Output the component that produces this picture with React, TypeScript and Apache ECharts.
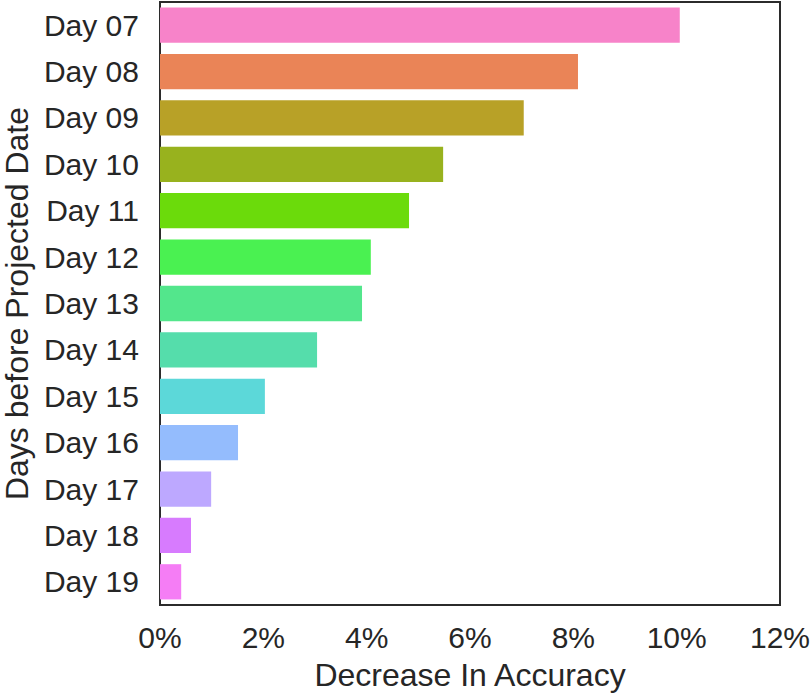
import React, { useEffect, useRef } from "react";
import * as echarts from "echarts";

const days = ["Day 07", "Day 08", "Day 09", "Day 10", "Day 11", "Day 12", "Day 13", "Day 14", "Day 15", "Day 16", "Day 17", "Day 18", "Day 19"];
const decrease = [10.06, 8.09, 7.04, 5.48, 4.82, 4.08, 3.91, 3.04, 2.03, 1.51, 0.99, 0.6, 0.41];
const barColors = ["#f783c9", "#ea8457", "#b8a127", "#98b21e", "#6bdb0b", "#4af151", "#53e68c", "#55ddab", "#5cd8d9", "#94bcfd", "#bda8ff", "#d77bfe", "#f57df5"];

export default function App() {
  const ref = useRef<HTMLDivElement>(null);
  useEffect(() => {
    if (!ref.current) return;
    const chart = echarts.init(ref.current, null, { renderer: "svg" });
    const font = "Liberation Sans, Arial, sans-serif";
    chart.setOption({
      animation: false,
      backgroundColor: "#ffffff",
      grid: {
        left: 160,
        right: 30,
        top: 2,
        bottom: 88,
        containLabel: false,
        outerBoundsMode: "none",
        show: true,
        borderColor: "#2b2b2b",
        borderWidth: 2,
        backgroundColor: "transparent",
      },
      xAxis: {
        type: "value",
        min: 0,
        max: 12,
        interval: 2,
        name: "Decrease In Accuracy",
        nameLocation: "middle",
        nameGap: 54,
        nameTextStyle: { fontSize: 32, color: "#262626", fontFamily: font },
        axisLine: { show: false },
        axisTick: { show: false },
        splitLine: { show: false },
        axisLabel: {
          fontSize: 30,
          color: "#262626",
          fontFamily: font,
          margin: 17,
          formatter: (v: number) => `${v}%`,
        },
      },
      yAxis: {
        type: "category",
        data: days,
        inverse: true,
        name: "Days before Projected Date",
        nameLocation: "middle",
        nameGap: 126,
        nameTextStyle: { fontSize: 32, color: "#262626", fontFamily: font },
        axisLine: { show: false },
        axisTick: { show: false },
        splitLine: { show: false },
        axisLabel: { fontSize: 30, color: "#262626", fontFamily: font, margin: 21 },
      },
      series: [
        {
          type: "bar",
          barCategoryGap: "24%",
          data: decrease.map((v, i) => ({ value: v, itemStyle: { color: barColors[i] } })),
        },
      ],
    });
    return () => chart.dispose();
  }, []);
  return (
    <div
      ref={ref}
      style={{ position: "fixed", left: 0, top: 0, width: 810, height: 693 }}
    />
  );
}
